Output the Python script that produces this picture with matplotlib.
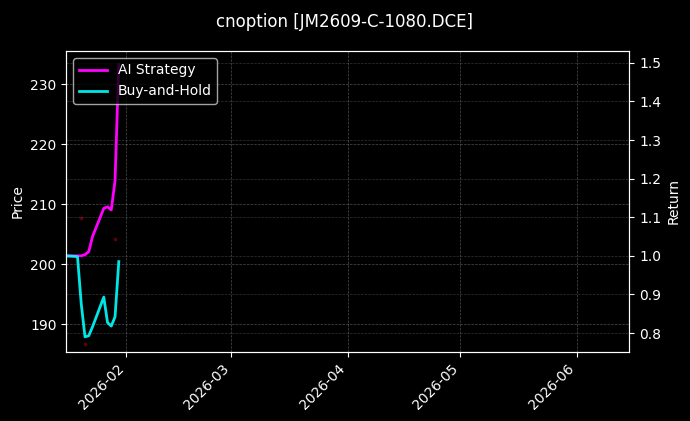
import numpy as np
import pandas as pd
import matplotlib
matplotlib.use("Agg")
import matplotlib.pyplot as plt
import matplotlib.dates as mdates

plt.style.use("dark_background")

# trading days shown
dates = pd.to_datetime([
    "2026-01-16", "2026-01-19", "2026-01-20", "2026-01-21", "2026-01-22",
    "2026-01-23", "2026-01-26", "2026-01-27", "2026-01-28", "2026-01-29",
    "2026-01-30",
])
ai_return = [1.0, 1.0, 1.0, 1.003, 1.011, 1.05, 1.123, 1.127, 1.119, 1.195, 1.496]
bh_return = [1.0, 0.998, 0.875, 0.79, 0.793, 0.816, 0.893, 0.827, 0.818, 0.842, 0.985]

# signal markers on price axis (barely visible dark red dots)
signal_dates = pd.to_datetime(["2026-01-20", "2026-01-21", "2026-01-29"])
signal_prices = [207.7, 186.8, 204.3]

title = "cnoption [JM2609-C-1080.DCE]"

fig, ax = plt.subplots(figsize=(6.9, 4.21), dpi=100)
fig.subplots_adjust(left=0.096, right=0.912, top=0.879, bottom=0.165)

ax.scatter(signal_dates, signal_prices, s=3, color="#5a0008", zorder=1)
ax.set_ylim(185.5, 235.5)
ax.set_ylabel("Price")
ax.grid(True, linestyle="--", linewidth=0.5, alpha=0.3)

ax2 = ax.twinx()
ax2.plot(dates, ai_return, color="#ff00ff", linewidth=2, label="AI Strategy")
ax2.plot(dates, bh_return, color="#00ffff", linewidth=2, label="Buy-and-Hold", alpha=0.9)
ax2.set_ylim(0.752, 1.531)
ax2.set_ylabel("Return")
ax2.grid(True, linestyle="--", linewidth=0.5, alpha=0.2)

ax.set_xlim(pd.Timestamp("2026-01-16"), pd.Timestamp("2026-06-15"))
ax.xaxis.set_major_locator(mdates.MonthLocator())
ax.xaxis.set_major_formatter(mdates.DateFormatter("%Y-%m"))
plt.setp(ax.get_xticklabels(), rotation=45, ha="right")

ax2.legend(loc="upper left")
fig.suptitle(title, fontsize=12, y=0.97)

fig.savefig("out.png", dpi=100, facecolor="black")
